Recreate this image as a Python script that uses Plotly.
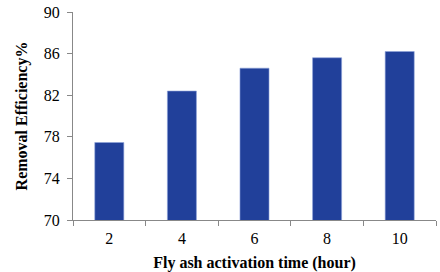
import plotly.graph_objects as go

hours = ["2", "4", "6", "8", "10"]
efficiency = [77.45, 82.4, 84.6, 85.6, 86.2]
y_ticks = [70, 74, 78, 82, 86, 90]

fig = go.Figure(go.Bar(
    x=hours, y=efficiency,
    marker=dict(color="#21409A", line=dict(color="#8FA3DA", width=0.6)),
))
font = dict(family="Liberation Serif", color="#000", size=16)
fig.update_layout(
    width=440, height=272,
    margin=dict(l=73, r=4, t=5, b=52),
    paper_bgcolor="white", plot_bgcolor="white",
    bargap=0.6, showlegend=False, font=font,
)
fig.update_xaxes(
    type="category", tickson="boundaries", ticks="outside", ticklen=5,
    tickcolor="#888", showline=True, linecolor="#888", linewidth=1,
    showgrid=False, ticklabelstandoff=4,
    title=dict(text="<b>Fly ash activation time (hour)</b>", font=dict(size=16), standoff=10),
)
fig.update_yaxes(
    range=[70, 90], tickvals=y_ticks, ticks="outside", ticklen=5,
    tickcolor="#888", showline=True, linecolor="#888", linewidth=1,
    showgrid=False, zeroline=False, ticklabeloverflow="allow",
    ticklabelstandoff=4,
    title=dict(text="<b>Removal Efficiency%</b>", font=dict(size=16), standoff=12),
)
fig.write_html("out.html")
